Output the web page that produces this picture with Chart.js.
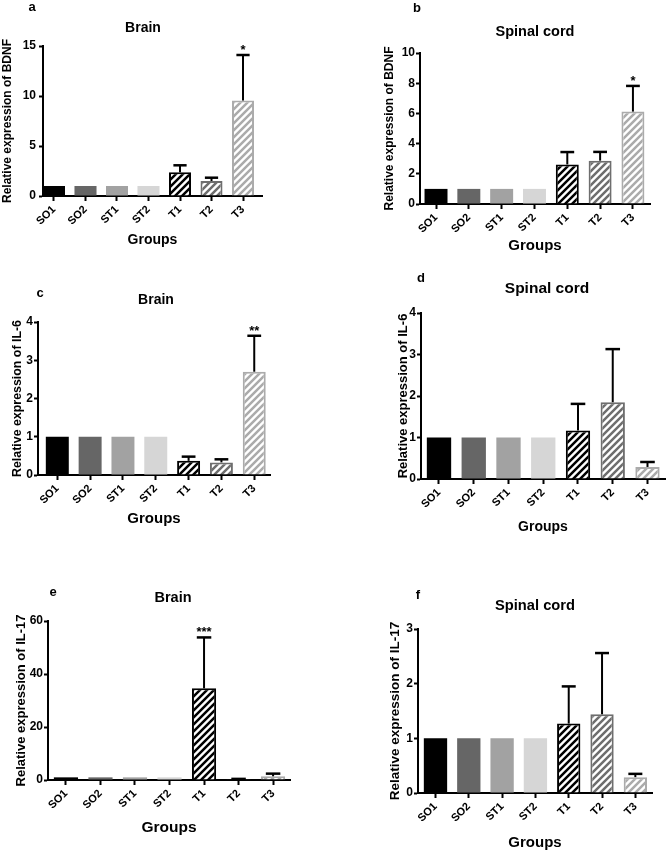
<!DOCTYPE html>
<html><head><meta charset="utf-8">
<script src="https://cdn.jsdelivr.net/npm/chart.js@4.4.0/dist/chart.umd.min.js"></script>
<style>
html,body{margin:0;padding:0;background:#fff;}
body{width:670px;height:854px;position:relative;overflow:hidden;font-family:"Liberation Sans",Arial,sans-serif;}
canvas{position:absolute;}
.lbl{position:absolute;transform:translate(-50%,-50%);font-weight:bold;white-space:nowrap;color:#000;line-height:1;}
</style></head><body>
<script>
// ---- data ----
const groups = ['SO1','SO2','ST1','ST2','T1','T2','T3'];

const brainBDNF      = [1,1,1,1,2.37,1.5,9.55];
const brainBDNFErr   = [0,0,0,0,0.7,0.33,4.55];
const brainBDNFStars = ['','','','','','','*'];

const spinalBDNF      = [1,1,1,1,2.62,2.87,6.12];
const spinalBDNFErr   = [0,0,0,0,0.82,0.58,1.7];
const spinalBDNFStars = ['','','','','','','*'];

const brainIL6      = [1,1,1,1,0.37,0.33,2.7];
const brainIL6Err   = [0,0,0,0,0.11,0.08,0.94];
const brainIL6Stars = ['','','','','','','**'];

const spinalIL6      = [1,1,1,1,1.17,1.85,0.29];
const spinalIL6Err   = [0,0,0,0,0.64,1.28,0.12];
const spinalIL6Stars = ['','','','','','',''];

const brainIL17      = [1,1,1,1,34.6,0.3,1.4];
const brainIL17Err   = [0,0,0,0,19.2,0.12,1.0];
const brainIL17Stars = ['','','','','***','',''];

const spinalIL17      = [1,1,1,1,1.27,1.44,0.29];
const spinalIL17Err   = [0,0,0,0,0.68,1.12,0.06];
const spinalIL17Stars = ['','','','','','',''];

const yTicksBDNFBrain = [0,5,10,15];
const yTicksBDNFSpinal = [0,2,4,6,8,10];
const yTicksIL6 = [0,1,2,3,4];
const yTicksIL17Brain = [0,20,40,60];
const yTicksIL17Spinal = [0,1,2,3];

// ---- layout / style ----
const FONT = "'Liberation Sans', Arial, sans-serif";
const solidColors = ['#000000','#666666','#a2a2a2','#d6d6d6'];
const hatchColors = ['#000000','#6e6e6e','#ababab'];

const panels = [
 {letter:'a', L:0, T:0, W:335, H:262, axisX:43, yTop:46, yBot:196, xRight:262, xMin:-0.349, xMax:6.603, tickPad:3,
  ticks:yTicksBDNFBrain, yTitle:'Relative expression of BDNF', yTitleFs:12, yTitleCX:8, groupsFs:14, groupsCY:240,
  title:'Brain', titleFs:14, titleCX:143, titleCY:27, letterX:32, letterY:6,
  vals:brainBDNF, errs:brainBDNFErr, stars:brainBDNFStars},
 {letter:'b', L:335, T:0, W:335, H:262, axisX:420, yTop:53, yBot:204, xRight:650, xMin:-0.488, xMax:6.52, tickPad:1,
  ticks:yTicksBDNFSpinal, yTitle:'Relative expression of BDNF', yTitleFs:12, yTitleCX:390, groupsFs:15, groupsCY:246,
  title:'Spinal cord', titleFs:14.5, titleCX:535, titleCY:31, letterX:417, letterY:7,
  vals:spinalBDNF, errs:spinalBDNFErr, stars:spinalBDNFStars},
 {letter:'c', L:0, T:262, W:335, H:272, axisX:38, yTop:322, yBot:475, xRight:270, xMin:-0.588, xMax:6.48, tickPad:1,
  ticks:yTicksIL6, yTitle:'Relative expression of IL-6', yTitleFs:12.4, yTitleCX:18, groupsFs:15, groupsCY:519,
  title:'Brain', titleFs:14, titleCX:156, titleCY:299, letterX:40, letterY:292,
  vals:brainIL6, errs:brainIL6Err, stars:brainIL6Stars},
 {letter:'d', L:335, T:262, W:335, H:280, axisX:421, yTop:313, yBot:479, xRight:665, xMin:-0.518, xMax:6.504, tickPad:1,
  ticks:yTicksIL6, yTitle:'Relative expression of IL-6', yTitleFs:13, yTitleCX:403, groupsFs:14, groupsCY:527,
  title:'Spinal cord', titleFs:15.5, titleCX:547, titleCY:288, letterX:421, letterY:277,
  vals:spinalIL6, errs:spinalIL6Err, stars:spinalIL6Stars},
 {letter:'e', L:0, T:540, W:335, H:314, axisX:48, yTop:621, yBot:780, xRight:290, xMin:-0.52, xMax:6.49, tickPad:1,
  ticks:yTicksIL17Brain, yTitle:'Relative expression of IL-17', yTitleFs:13, yTitleCX:21, groupsFs:15.5, groupsCY:828,
  title:'Brain', titleFs:14.5, titleCX:173, titleCY:597, letterX:53, letterY:591,
  vals:brainIL17, errs:brainIL17Err, stars:brainIL17Stars},
 {letter:'f', L:335, T:540, W:335, H:314, axisX:418, yTop:629, yBot:793, xRight:652, xMin:-0.525, xMax:6.5, tickPad:1,
  ticks:yTicksIL17Spinal, yTitle:'Relative expression of IL-17', yTitleFs:13.5, yTitleCX:395, groupsFs:15, groupsCY:843,
  title:'Spinal cord', titleFs:14.7, titleCX:535, titleCY:605, letterX:418, letterY:594,
  vals:spinalIL17, errs:spinalIL17Err, stars:spinalIL17Stars}
];

function hatch(ctx, color) {
  const n = 7;
  const c = document.createElement('canvas'); c.width = n; c.height = n;
  const g = c.getContext('2d');
  g.fillStyle = '#fff'; g.fillRect(0,0,n,n);
  g.strokeStyle = color; g.lineWidth = 2.5;
  g.beginPath();
  g.moveTo(-1,n+1); g.lineTo(n+1,-1);
  g.moveTo(-n/2-1,n/2+1); g.lineTo(n/2+1,-n/2-1);
  g.moveTo(n/2-1,n*1.5+1); g.lineTo(n*1.5+1,n/2-1);
  g.stroke();
  return ctx.createPattern(c,'repeat');
}

function addLabel(text, x, y, fs, weight) {
  const d = document.createElement('div');
  d.className = 'lbl';
  d.textContent = text;
  d.style.left = x + 'px'; d.style.top = y + 'px';
  d.style.fontSize = fs + 'px';
  if (weight) d.style.fontWeight = weight;
  document.body.appendChild(d);
}

const errPlugin = {
  id: 'errbars',
  afterDatasetsDraw(chart, args, opts) {
    const ctx = chart.ctx;
    const meta = chart.getDatasetMeta(0);
    const ys = chart.scales.y;
    ctx.save();
    ctx.strokeStyle = '#000';
    ctx.fillStyle = '#000';
    ctx.lineWidth = 2;
    meta.data.forEach((bar, i) => {
      const v = opts.vals[i], e = opts.errs[i];
      let yTop = bar.y;
      if (e > 0) {
        yTop = ys.getPixelForValue(v + e);
        const hw = bar.width * 0.3;
        ctx.beginPath();
        ctx.moveTo(bar.x, bar.y); ctx.lineTo(bar.x, yTop);
        ctx.stroke();
        ctx.lineWidth = 2.5;
        ctx.beginPath();
        ctx.moveTo(bar.x - hw, yTop); ctx.lineTo(bar.x + hw, yTop);
        ctx.stroke();
        ctx.lineWidth = 2;
      }
      const s = opts.stars[i];
      if (s) {
        ctx.font = 'bold 13px ' + FONT;
        ctx.textAlign = 'center';
        ctx.textBaseline = 'alphabetic';
        ctx.fillText(s, bar.x, yTop - 1);
      }
    });
    ctx.restore();
  }
};

panels.forEach(P => {
  const cv = document.createElement('canvas');
  cv.width = P.W; cv.height = P.H;
  cv.style.left = P.L + 'px'; cv.style.top = P.T + 'px';
  document.body.appendChild(cv);
  const ctx = cv.getContext('2d');
  const fills = solidColors.concat(hatchColors.map(c => hatch(ctx, c)));
  const borders = solidColors.concat(hatchColors);
  const bw = [0,0,0,0,2,2,2];

  const wy = P.axisX - P.L;
  const hx = P.T + P.H - P.yBot;
  const padTop = P.yTop - P.T;
  const padRight = P.L + P.W - P.xRight;
  const yTitlePad = P.yTitleCX - P.L - P.yTitleFs * 0.6;
  const groupsPad = P.T + P.H - P.groupsCY - P.groupsFs * 0.6;
  const yMax = P.ticks[P.ticks.length - 1];
  const yStep = P.ticks[1] - P.ticks[0];

  new Chart(ctx, {
    type: 'bar',
    data: {
      datasets: [{
        data: P.vals.map((v, i) => ({x: i, y: v})),
        backgroundColor: fills,
        borderColor: borders,
        borderWidth: bw,
        borderSkipped: 'start',
        categoryPercentage: 1,
        barPercentage: 0.7
      }]
    },
    options: {
      responsive: false,
      devicePixelRatio: 1,
      animation: false,
      layout: {padding: {left: 0, top: padTop, right: padRight, bottom: 0}},
      plugins: {
        legend: {display: false},
        tooltip: {enabled: false},
        title: {display: false},
        errbars: {vals: P.vals, errs: P.errs, stars: P.stars}
      },
      scales: {
        x: {
          type: 'linear',
          min: P.xMin, max: P.xMax,
          offset: false,
          afterBuildTicks: s => { s.ticks = groups.map((_, i) => ({value: i})); },
          afterFit: s => { s.height = hx; s.paddingLeft = 0; s.paddingRight = 0; },
          grid: {display: true, drawOnChartArea: false, drawTicks: true, tickLength: 5, tickColor: '#000', tickWidth: 2, offset: false},
          border: {display: true, color: '#000', width: 2},
          ticks: {
            autoSkip: false, minRotation: 45, maxRotation: 45, padding: 2,
            color: '#000', font: {family: FONT, size: 11, weight: 'bold'},
            callback: v => groups[Math.round(v)]
          },
          title: {display: true, text: 'Groups', color: '#000',
                  font: {family: FONT, size: P.groupsFs, weight: 'bold'},
                  padding: {top: 0, bottom: groupsPad}}
        },
        y: {
          type: 'linear',
          min: 0, max: yMax,
          afterBuildTicks: s => { s.ticks = P.ticks.map(v => ({value: v})); },
          afterFit: s => { s.width = wy; s.paddingTop = 0; s.paddingBottom = 0; },
          grid: {display: true, drawOnChartArea: false, drawTicks: true, tickLength: 4, tickColor: '#000', tickWidth: 2},
          border: {display: true, color: '#000', width: 2},
          ticks: {stepSize: yStep, padding: P.tickPad, color: '#000', font: {family: FONT, size: 12, weight: 'bold'}},
          title: {display: true, text: P.yTitle, color: '#000',
                  font: {family: FONT, size: P.yTitleFs, weight: 'bold'},
                  padding: {top: yTitlePad, bottom: 0}}
        }
      }
    },
    plugins: [errPlugin]
  });

  addLabel(P.title, P.titleCX, P.titleCY, P.titleFs, 'bold');
  addLabel(P.letter, P.letterX, P.letterY, 13, 'bold');
});
</script>
</body></html>
